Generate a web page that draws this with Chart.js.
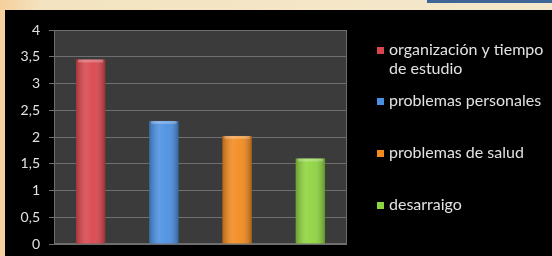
<!DOCTYPE html>
<html>
<head>
<meta charset="utf-8">
<script src="https://cdn.jsdelivr.net/npm/chart.js@4/dist/chart.umd.min.js"></script>
<style>
    html, body { margin: 0; padding: 0; }
    body { width: 552px; height: 256px; position: relative; overflow: hidden;
           background: linear-gradient(90deg, #f6cf9c 0px, #f3e3c0 40px, #f4e8cc 100%); }
    #topbar { position: absolute; left: 427px; top: 0; width: 125px; height: 3px; background: #3f6597; }
    #panel { position: absolute; left: 5px; top: 10px; width: 547px; height: 246px; background: #000; }
    #chart_wrap { position: absolute; left: 0; top: 0; width: 552px; height: 256px; }
</style>
</head>
<body>
<div id="topbar"></div>
<div id="panel"></div>
<div id="chart_wrap"><canvas id="bar_chart_id" width="552" height="256"></canvas></div>
<script>
const categories = ['organización y tiempo de estudio', 'problemas personales', 'problemas de salud', 'desarraigo'];
const legendLines = [['organización y tiempo', 'de estudio'], ['problemas personales'], ['problemas de salud'], ['desarraigo']];
const values = [3.45, 2.3, 2.02, 1.6];
const tickLabels = ['0', '0,5', '1', '1,5', '2', '2,5', '3', '3,5', '4'];

const COLORS = {
    RED: '#d9454c',
    BLUE: '#4b8fe2',
    ORANGE: '#f28a1e',
    GREEN: '#8ed43e',
    TEXT: '#e2e2e2',
    PLOT: '#3b3b3b',
    GRID: '#6e6e6e'
}
const barColors = [COLORS.RED, COLORS.BLUE, COLORS.ORANGE, COLORS.GREEN];
const FONT = "'Lato', 'Open Sans', sans-serif";

// gray plot area behind bars
const plotBackground = {
    id: 'plotBackground',
    beforeDraw(chart) {
        const {ctx, chartArea: a} = chart;
        ctx.save();
        ctx.fillStyle = COLORS.PLOT;
        ctx.fillRect(a.left, a.top, a.right - a.left, a.bottom - a.top);
        ctx.strokeStyle = COLORS.GRID;
        ctx.lineWidth = 1;
        ctx.strokeRect(a.left + 0.5, a.top + 0.5, a.right - a.left - 1, a.bottom - a.top - 1);
        ctx.restore();
    }
}

// cylinder-ish shine on top of each bar
const barShine = {
    id: 'barShine',
    afterDatasetsDraw(chart) {
        const ctx = chart.ctx;
        chart.getDatasetMeta(0).data.forEach((bar) => {
            const left = bar.x - bar.width / 2;
            const g = ctx.createLinearGradient(left, 0, left + bar.width, 0);
            g.addColorStop(0, 'rgba(0,0,0,0.25)');
            g.addColorStop(0.35, 'rgba(255,255,255,0.12)');
            g.addColorStop(0.6, 'rgba(255,255,255,0.05)');
            g.addColorStop(1, 'rgba(0,0,0,0.3)');
            ctx.save();
            ctx.fillStyle = g;
            ctx.fillRect(left, bar.y, bar.width, bar.base - bar.y);
            ctx.fillStyle = 'rgba(255,255,255,0.25)';
            ctx.fillRect(left + 2, bar.y, bar.width - 4, 3);
            ctx.restore();
        });
    }
}

// legend on the right, one entry per category
const sideLegend = {
    id: 'sideLegend',
    afterDraw(chart) {
        const ctx = chart.ctx;
        const rowY = [50, 101, 153, 205];
        ctx.save();
        ctx.font = '16px ' + FONT;
        ctx.textBaseline = 'middle';
        legendLines.forEach((lines, i) => {
            ctx.fillStyle = barColors[i];
            ctx.fillRect(377, rowY[i] - 3, 7, 7);
            ctx.fillStyle = COLORS.TEXT;
            lines.forEach((line, j) => {
                ctx.fillText(line, 389, rowY[i] + j * 19);
            });
        });
        ctx.restore();
    }
}

const getBarChartConfig = () => {
    return {
        type: 'bar',
        data: {
            labels: categories,
            datasets: [{
                data: values,
                backgroundColor: barColors,
                borderWidth: 0,
                categoryPercentage: 0.8,
                barPercentage: 0.5,
            }]
        },
        options: {
            responsive: false,
            animation: false,
            layout: { padding: { left: 10, right: 205, top: 30, bottom: 12 } },
            plugins: {
                legend: { display: false },
                tooltip: { enabled: false }
            },
            scales: {
                x: { display: false },
                y: {
                    min: 0,
                    max: 4,
                    afterFit: (scale) => {
                        scale.width = 44;
                        scale.paddingTop = 0;
                        scale.paddingBottom = 0;
                    },
                    border: { display: false },
                    grid: {
                        color: COLORS.GRID,
                        tickLength: 5,
                        drawTicks: true,
                    },
                    ticks: {
                        stepSize: 0.5,
                        padding: 9,
                        color: COLORS.TEXT,
                        font: { family: FONT, size: 14, lineHeight: 1 },
                        callback: (value, index) => tickLabels[index]
                    }
                }
            }
        },
        plugins: [plotBackground, barShine, sideLegend]
    }
}

var ctx = document.getElementById('bar_chart_id');
var newChart = new Chart(ctx, getBarChartConfig());
</script>
</body>
</html>
